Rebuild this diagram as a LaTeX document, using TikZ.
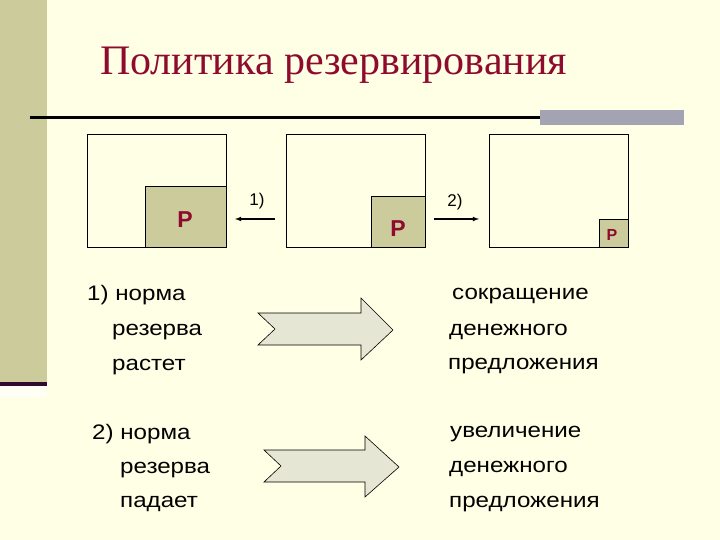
\documentclass[tikz,border=0pt]{standalone}
\usepackage{fontspec}
\setmainfont{Liberation Sans}
\newfontfamily\titlefont{Liberation Serif}
\newfontfamily\widefont[FakeStretch=1.15]{Liberation Sans}
\definecolor{bg}{HTML}{FFFFE5}
\definecolor{khaki}{HTML}{CBCB9B}
\definecolor{darkred}{HTML}{8E0B2E}
\definecolor{barpurple}{HTML}{330A2E}
\definecolor{bargray}{HTML}{A3A3B3}
\definecolor{arrowfill}{HTML}{E6E6D4}
\tikzset{
  frame/.style={draw=black, line width=0.9pt},
  resv/.style={draw=black, line width=0.9pt, fill=khaki},
  plabel/.style={text=darkred, font=\bfseries\fontsize{23}{23}\selectfont, inner sep=0pt},
  smalllabel/.style={font=\fontsize{17}{17}\selectfont, inner sep=0pt},
  bodytext/.style={font=\widefont\fontsize{21}{21}\selectfont, inner sep=0pt, anchor=base west},
  bigarrow/.style={draw=black, line width=0.6pt, fill=arrowfill, line join=miter},
  smallarrow/.style={-latex, line width=1.1pt}
}
\begin{document}
\begin{tikzpicture}[x=1pt,y=-1pt]
\useasboundingbox (0,0) rectangle (720,540);
\fill[bg] (0,0) rectangle (720,540);
% left strip
\fill[khaki] (0,0) rectangle (47,382);
\fill[barpurple] (0,382) rectangle (47,386);
\fill[white!60!bg] (0,386) rectangle (47,397);
% title
\node[anchor=base west, inner sep=0pt, text=darkred, font=\titlefont\fontsize{42}{42}\selectfont] (title) at (100,75) {Политика резервирования};
% rule
\fill[bargray] (540,110) rectangle (684,125);
\draw[line width=2.5pt] (30,117.5) -- (540,117.5);
% boxes
\node[frame, minimum width=139pt, minimum height=113pt, anchor=north west, inner sep=0pt] (b1) at (87,134) {};
\node[frame, minimum width=139pt, minimum height=113pt, anchor=north west, inner sep=0pt] (b2) at (286,134) {};
\node[frame, minimum width=139pt, minimum height=113pt, anchor=north west, inner sep=0pt] (b3) at (489,134) {};
\node[resv, minimum width=81pt, minimum height=61pt, anchor=south east, inner sep=0pt] (r1) at (b1.south east) {};
\node[resv, minimum width=54pt, minimum height=51pt, anchor=south east, inner sep=0pt] (r2) at (b2.south east) {};
\node[resv, minimum width=29pt, minimum height=28pt, anchor=south east, inner sep=0pt] (r3) at (b3.south east) {};
\node[plabel] (p1) at (185,220) {P};
\node[plabel] (p2) at (398,229) {P};
\node[plabel, font=\bfseries\fontsize{16}{16}\selectfont] (p3) at (612,235) {P};
% small arrows
\coordinate (a1s) at (275,219);
\coordinate (a1e) at (235,219);
\coordinate (a2s) at (434,219);
\coordinate (a2e) at (479,219);
\draw[smallarrow] (a1s) -- (a1e);
\draw[smallarrow] (a2s) -- (a2e);
\node[smalllabel] (l1) at (257,201) {1)};
\node[smalllabel] (l2) at (455,202) {2)};
% big arrows
\draw[bigarrow] (258,313) -- (361,313) -- (361,298) -- (393,330) -- (361,360) -- (361,345) -- (258,345) -- (275,329) -- cycle;
\draw[bigarrow] (264,450) -- (365,450) -- (365,436) -- (399,467) -- (365,497) -- (365,482) -- (264,482) -- (281,466) -- cycle;
% left texts
\node[bodytext] (t1a) at (87,300) {1) норма};
\node[bodytext] (t1b) at (112,335) {резерва};
\node[bodytext] (t1c) at (112,370) {растет};
\node[bodytext] (t2a) at (92,439) {2) норма};
\node[bodytext] (t2b) at (120,473) {резерва};
\node[bodytext] (t2c) at (120,507) {падает};
% right texts
\node[bodytext] (r1a) at (452,299) {сокращение};
\node[bodytext] (r1b) at (449,335) {денежного};
\node[bodytext] (r1c) at (448,369) {предложения};
\node[bodytext] (r2a) at (450,437) {увеличение};
\node[bodytext] (r2b) at (449,472) {денежного};
\node[bodytext] (r2c) at (449,507) {предложения};
\end{tikzpicture}
\end{document}
